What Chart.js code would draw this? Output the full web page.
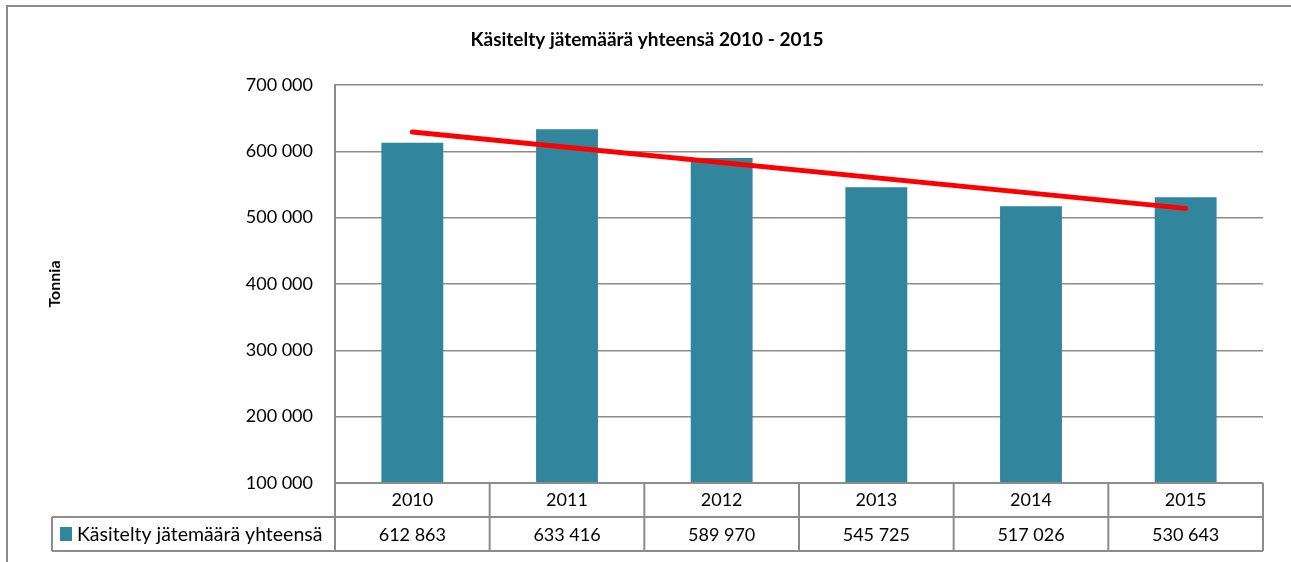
<!DOCTYPE html>
<html>
<head>
<meta charset="utf-8">
<script src="https://cdn.jsdelivr.net/npm/chart.js@4.4.1/dist/chart.umd.min.js"></script>
<style>
  html, body { margin: 0; padding: 0; background: #fff; }
  #wrap { width: 1291px; height: 562px; position: relative; }
</style>
</head>
<body>
<div id="wrap"><canvas id="chart"></canvas></div>
<script>
// --- DATA ---
const years = ['2010', '2011', '2012', '2013', '2014', '2015'];
const totals = [612863, 633416, 589970, 545725, 517026, 530643];
// linear trend line, end points
const trend = [629000, null, null, null, null, 514000];
const seriesLabel = 'Käsitelty jätemäärä yhteensä';
const yMin = 100000, yMax = 700000, yStep = 100000;

const FONT = "Lato, 'Open Sans', sans-serif";
const GRID = '#8c8c8c';
const TEAL = '#31859c';

const fmt = v => String(v).replace(/\B(?=(\d{3})+(?!\d))/g, ' ');

Chart.defaults.font.family = FONT;
Chart.defaults.color = '#000';

// outer frame + data table under the plot
const dataTable = {
    id: 'dataTable',
    beforeDraw(chart) {
        const ctx = chart.ctx;
        ctx.save();
        ctx.strokeStyle = GRID;
        ctx.lineWidth = 2;
        ctx.beginPath();
        ctx.moveTo(7, chart.height + 2);
        ctx.lineTo(7, 6);
        ctx.lineTo(chart.width + 2, 6);
        ctx.stroke();
        ctx.restore();
    },
    afterDraw(chart) {
        const { ctx, chartArea: a, scales: { x } } = chart;
        const rowH = 34;
        const top = a.bottom, mid = top + rowH, bot = mid + rowH;
        const legendLeft = 52;
        const colW = (a.right - a.left) / years.length;

        ctx.save();
        ctx.strokeStyle = GRID;
        ctx.lineWidth = 2;
        ctx.beginPath();
        // horizontal rules
        ctx.moveTo(a.left, top); ctx.lineTo(a.right, top);
        ctx.moveTo(legendLeft, mid); ctx.lineTo(a.right, mid);
        ctx.moveTo(legendLeft, bot); ctx.lineTo(a.right, bot);
        // vertical rules
        for (let i = 0; i <= years.length; i++) {
            const px = a.left + i * colW;
            ctx.moveTo(px, top); ctx.lineTo(px, bot);
        }
        ctx.moveTo(legendLeft, mid); ctx.lineTo(legendLeft, bot);
        ctx.stroke();

        // values row
        ctx.fillStyle = '#000';
        ctx.font = '18px ' + FONT;
        ctx.textAlign = 'center';
        ctx.textBaseline = 'middle';
        totals.forEach((v, i) => {
            ctx.fillText(fmt(v), x.getPixelForValue(i), mid + rowH / 2 + 1);
        });

        // legend key
        ctx.fillStyle = TEAL;
        ctx.fillRect(60, mid + 10, 12, 14);
        ctx.fillStyle = '#000';
        ctx.textAlign = 'left';
        ctx.font = '19.5px ' + FONT;
        ctx.fillText(seriesLabel, 77, mid + rowH / 2 + 1);
        ctx.restore();
    }
};

new Chart(document.getElementById('chart'), {
    type: 'bar',
    data: {
        labels: years,
        datasets: [
            {
                type: 'line',
                label: 'Trendi',
                data: trend,
                borderColor: '#ff0000',
                borderWidth: 5,
                borderCapStyle: 'round',
                pointRadius: 0,
                spanGaps: true,
                order: 0
            },
            {
                label: seriesLabel,
                data: totals,
                backgroundColor: TEAL,
                barPercentage: 0.4,
                categoryPercentage: 1.0,
                order: 1
            }
        ]
    },
    options: {
        responsive: true, maintainAspectRatio: false,
        animation: false,
        layout: { padding: { left: 31, top: 0, right: 28, bottom: 45 } },
        plugins: {
            legend: { display: false },
            tooltip: { enabled: false },
            title: {
                display: true,
                text: 'Käsitelty jätemäärä yhteensä 2010 - 2015',
                color: '#000',
                font: { size: 19, weight: 'bold' },
                padding: { top: 28.5, bottom: 33.7 }
            }
        },
        scales: {
            x: {
                grid: { display: false, drawTicks: false },
                border: { display: false },
                ticks: { font: { size: 18 }, padding: 6, maxRotation: 0 },
                afterFit(s) { s.height = 34; }
            },
            y: {
                min: yMin, max: yMax,
                ticks: { stepSize: yStep, padding: 22, font: { size: 18 }, callback: v => fmt(v) },
                grid: { color: GRID, lineWidth: 1.5, drawTicks: false },
                border: { color: GRID, width: 2 },
                title: {
                    display: true, text: 'Tonnia', color: '#000',
                    font: { size: 16, weight: 'bold' },
                    padding: { top: 14 }
                },
                afterFit(s) { s.width = 304; }
            }
        }
    },
    plugins: [dataTable]
});
</script>
</body>
</html>
